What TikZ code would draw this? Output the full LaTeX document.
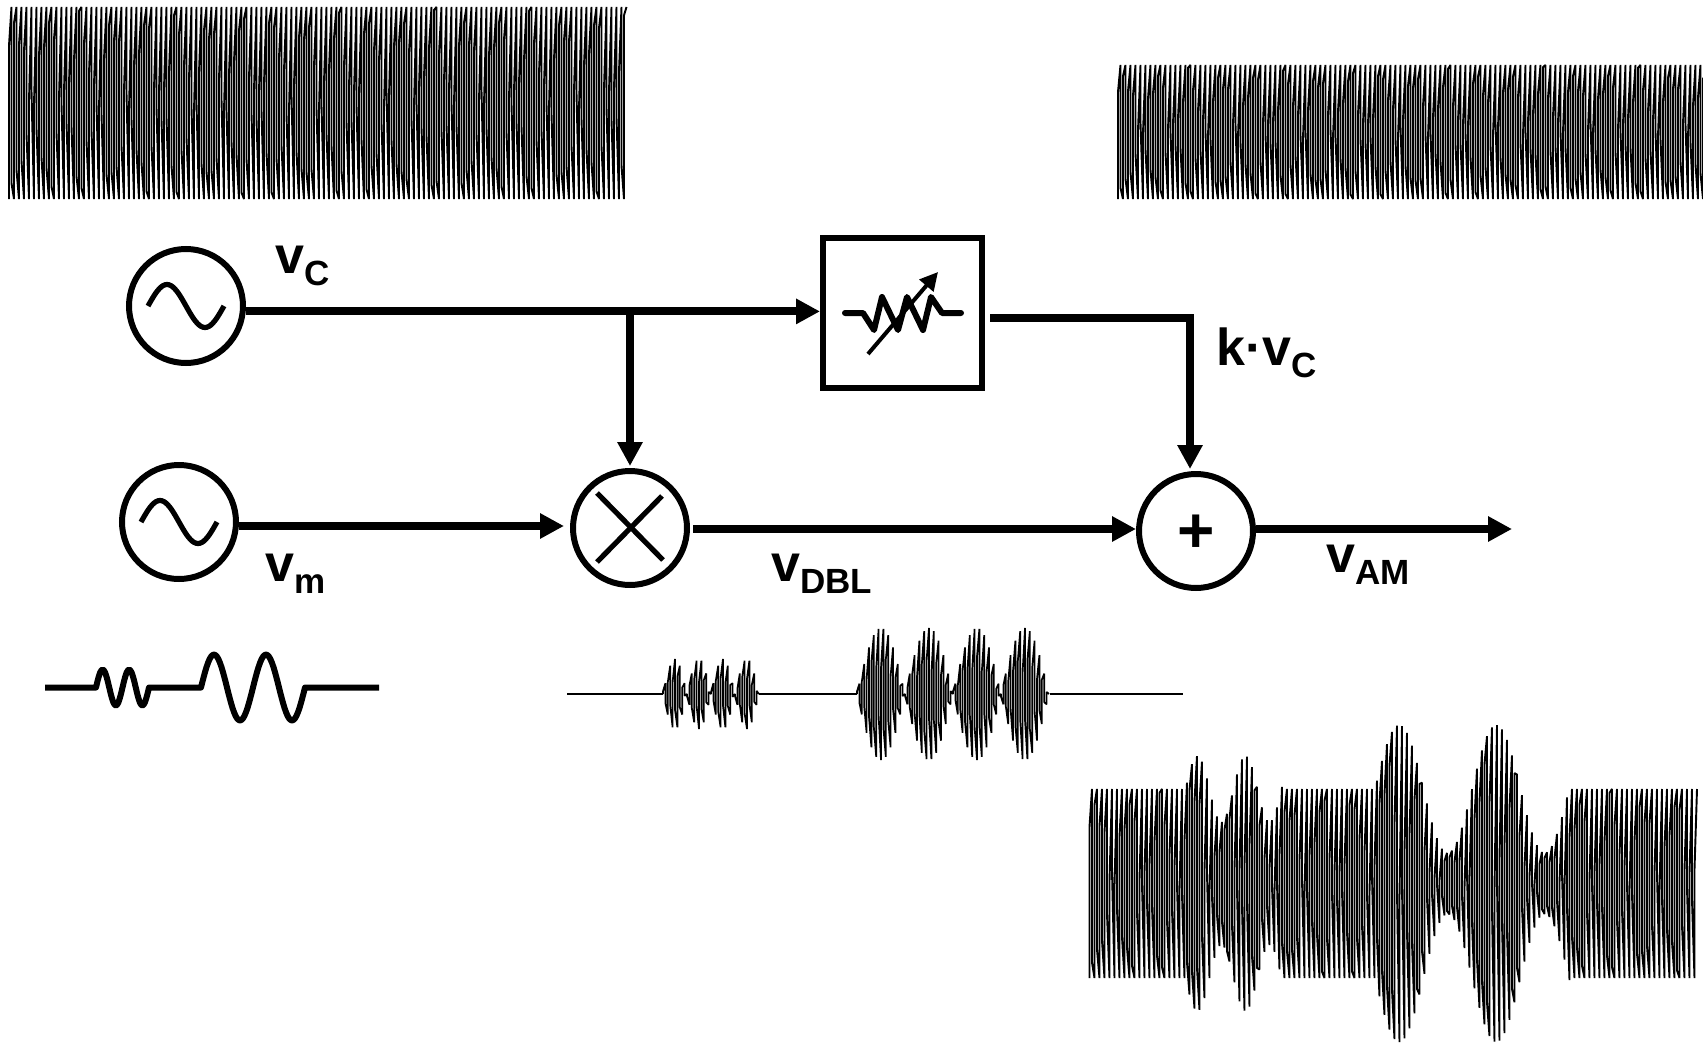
\documentclass[tikz,border=0pt]{standalone}
\usepackage{fontspec}
\setmainfont{Liberation Sans}
\usepackage{tikz}
\usetikzlibrary{arrows.meta,calc}

\newcommand{\siglab}[1]{v\raisebox{-6pt}{\fontsize{17.5}{17.5}\selectfont #1}}

\begin{document}
\begin{tikzpicture}[
    x=0.5pt, y=-0.5pt,
    declare function={
      xcol(\k)=2*floor(\k/2);
      midval(\k)=0.42+0.40*sin(14*\k)+0.15*sin(33*mod(\k,120));
      carr(\k)=(2*mod(floor(\k/2),2)-1)*(1-mod(\k,2)*(1+midval(\k)));
      carrb(\k)=(2*mod(floor(\k/2),2)-1)*(1-mod(\k,2)*(1.45+0.12*sin(33*mod(\k,120))));
    },
    srcnode/.style={draw=black, circle, line width=3pt, minimum size=57pt, inner sep=0pt},
    junction/.style={draw=black, circle, line width=3pt, minimum size=57pt, inner sep=0pt,
      font=\fontsize{32}{32}\selectfont\bfseries},
    gainbox/.style={draw=black, line width=3pt, minimum width=79.5pt, minimum height=75pt, inner sep=0pt},
    arrow/.style={-{Triangle[length=12pt,width=12pt]}, line width=4pt, black},
    siglabel/.style={anchor=base west, inner sep=0pt, font=\fontsize{26}{26}\selectfont\bfseries},
    wave/.style={line width=0.96pt, line join=bevel, black},
    sineglyph/.style={line width=2.6pt, black},
    thickline/.style={line width=3pt, line join=round, black}
  ]
    \useasboundingbox (0,0) rectangle (1703,1044);

    % carrier traces
    \draw[wave] plot[domain=0:494, samples=495] ({9+1.25*xcol(\x)},{103-96*carr(\x)});
    \draw[wave] plot[domain=0:469, samples=470] ({1118+1.25*xcol(\x)},{132-67*carr(\x)});

    \node[srcnode] (srcc) at (186,306) {};
    \node[srcnode] (srcm) at (179,522) {};
    \node[junction] (mix) at (630,528) {};
    \node[junction] (adder) at (1196,531) {\raisebox{-1.5pt}[\height][0pt]{+}};
    \node[gainbox] (gain) at (902.5,313) {};

    \draw[sineglyph] plot[domain=-38:38, samples=41] ({186+\x},{306-21.5*sin(180*(\x+38)/38)});
    \draw[sineglyph] plot[domain=-38:38, samples=41] ({179+\x},{522-21.5*sin(180*(\x+38)/38)});
    \draw[line width=2.6pt] (597,493) -- (663,560);
    \draw[line width=2.6pt] (597,562) -- (662,496);

    % variable gain
    \draw[line width=3pt, line join=round, line cap=round]
      (845,313) -- (863,313) -- (874,330) -- (882,297) -- (898,330) -- (907,297)
      -- (923,330) -- (931,297) -- (942,313) -- (961,313);
    \draw[-{Triangle[length=9pt,width=9pt]}, line width=2pt] (868,354) -- (938,272);

    \coordinate (vcout) at ([yshift=-2.7pt]srcc.east);
    \coordinate (vctap) at (vcout -| mix.north);
    \coordinate (vmout) at ([yshift=-2pt]srcm.east);
    \coordinate (mixin) at ([xshift=-3pt]vmout -| mix.west);
    \coordinate (dblout) at ([xshift=1.5pt,yshift=-.5pt]mix.east);
    \coordinate (dblin) at (dblout -| adder.west);
    \coordinate (gainout) at ([xshift=2.5pt,yshift=-2.5pt]gain.east);
    \coordinate (kvcin) at ([xshift=-3pt,yshift=1pt]adder.north);
    \coordinate (amout) at ([yshift=1pt]adder.east);
    \coordinate (amend) at (1512,529);

    \draw[arrow] (vcout) -- (vcout -| gain.west);
    \draw[arrow, shorten >=1pt] (vctap) -- (mix.north);
    \draw[arrow] (vmout) -- (mixin);
    \draw[arrow] (dblout) -- (dblin);
    \draw[arrow] (gainout) -| (kvcin);
    \draw[arrow] (amout) -- (amend);

    \node[siglabel] (vclab) at (275,273) {\siglab{C}};
    \node[siglabel] (vmlab) at (265,581) {\siglab{m}};
    \node[siglabel] (vdbllab) at (771,581) {\siglab{DBL}};
    \node[siglabel] (vamlab) at (1326,572) {\siglab{AM}};
    \node[siglabel] (kvclab) at (1216,365) {k·\siglab{C}};

    % modulator
    \draw[thickline] (45,687.5) -- (96,687.5)
      -- plot[domain=0:53, samples=41] ({96+\x},{687.5-18*sin(13.585*\x)})
      -- (201,687.5)
      -- plot[domain=0:104, samples=61] ({201+\x},{687.5-33*sin(6.923*\x)})
      -- (379,687.5);

    % double sideband
    \draw[line width=1pt] (567,694) -- (663,694);
    \draw[line width=1pt] (759,694) -- (857,694);
    \draw[line width=1pt] (1050,694) -- (1183,694);
    \draw[wave, line width=0.85pt] plot[domain=0:80, samples=81] ({663+1.2*xcol(\x)},{694-35*sin(9*\x)*carrb(\x)});
    \draw[wave, line width=0.85pt] plot[domain=0:160, samples=161] ({857+1.2*xcol(\x)},{694-66*sin(4.5*\x)*carrb(\x)});

    % amplitude modulated
    \draw[wave] plot[domain=0:77, samples=78] ({1089.5+1.25*xcol(\x)},{883.5-94.5*carr(\x)})
      -- plot[domain=77:154, samples=78] ({1089.5+1.25*xcol(\x)},{883.5-(94.5+33*sin(7.5*(1.25*\x-96)))*carr(\x)})
      -- plot[domain=154:228, samples=75] ({1089.5+1.25*xcol(\x)},{883.5-94.5*carr(\x)})
      -- plot[domain=228:384, samples=157] ({1089.5+1.25*xcol(\x)},{883.5-(94.5+64*sin(3.711*(1.25*\x-285.5)))*carr(\x)})
      -- plot[domain=384:486, samples=103] ({1089.5+1.25*xcol(\x)},{883.5-94.5*carr(\x)});
  \end{tikzpicture}
\end{document}
